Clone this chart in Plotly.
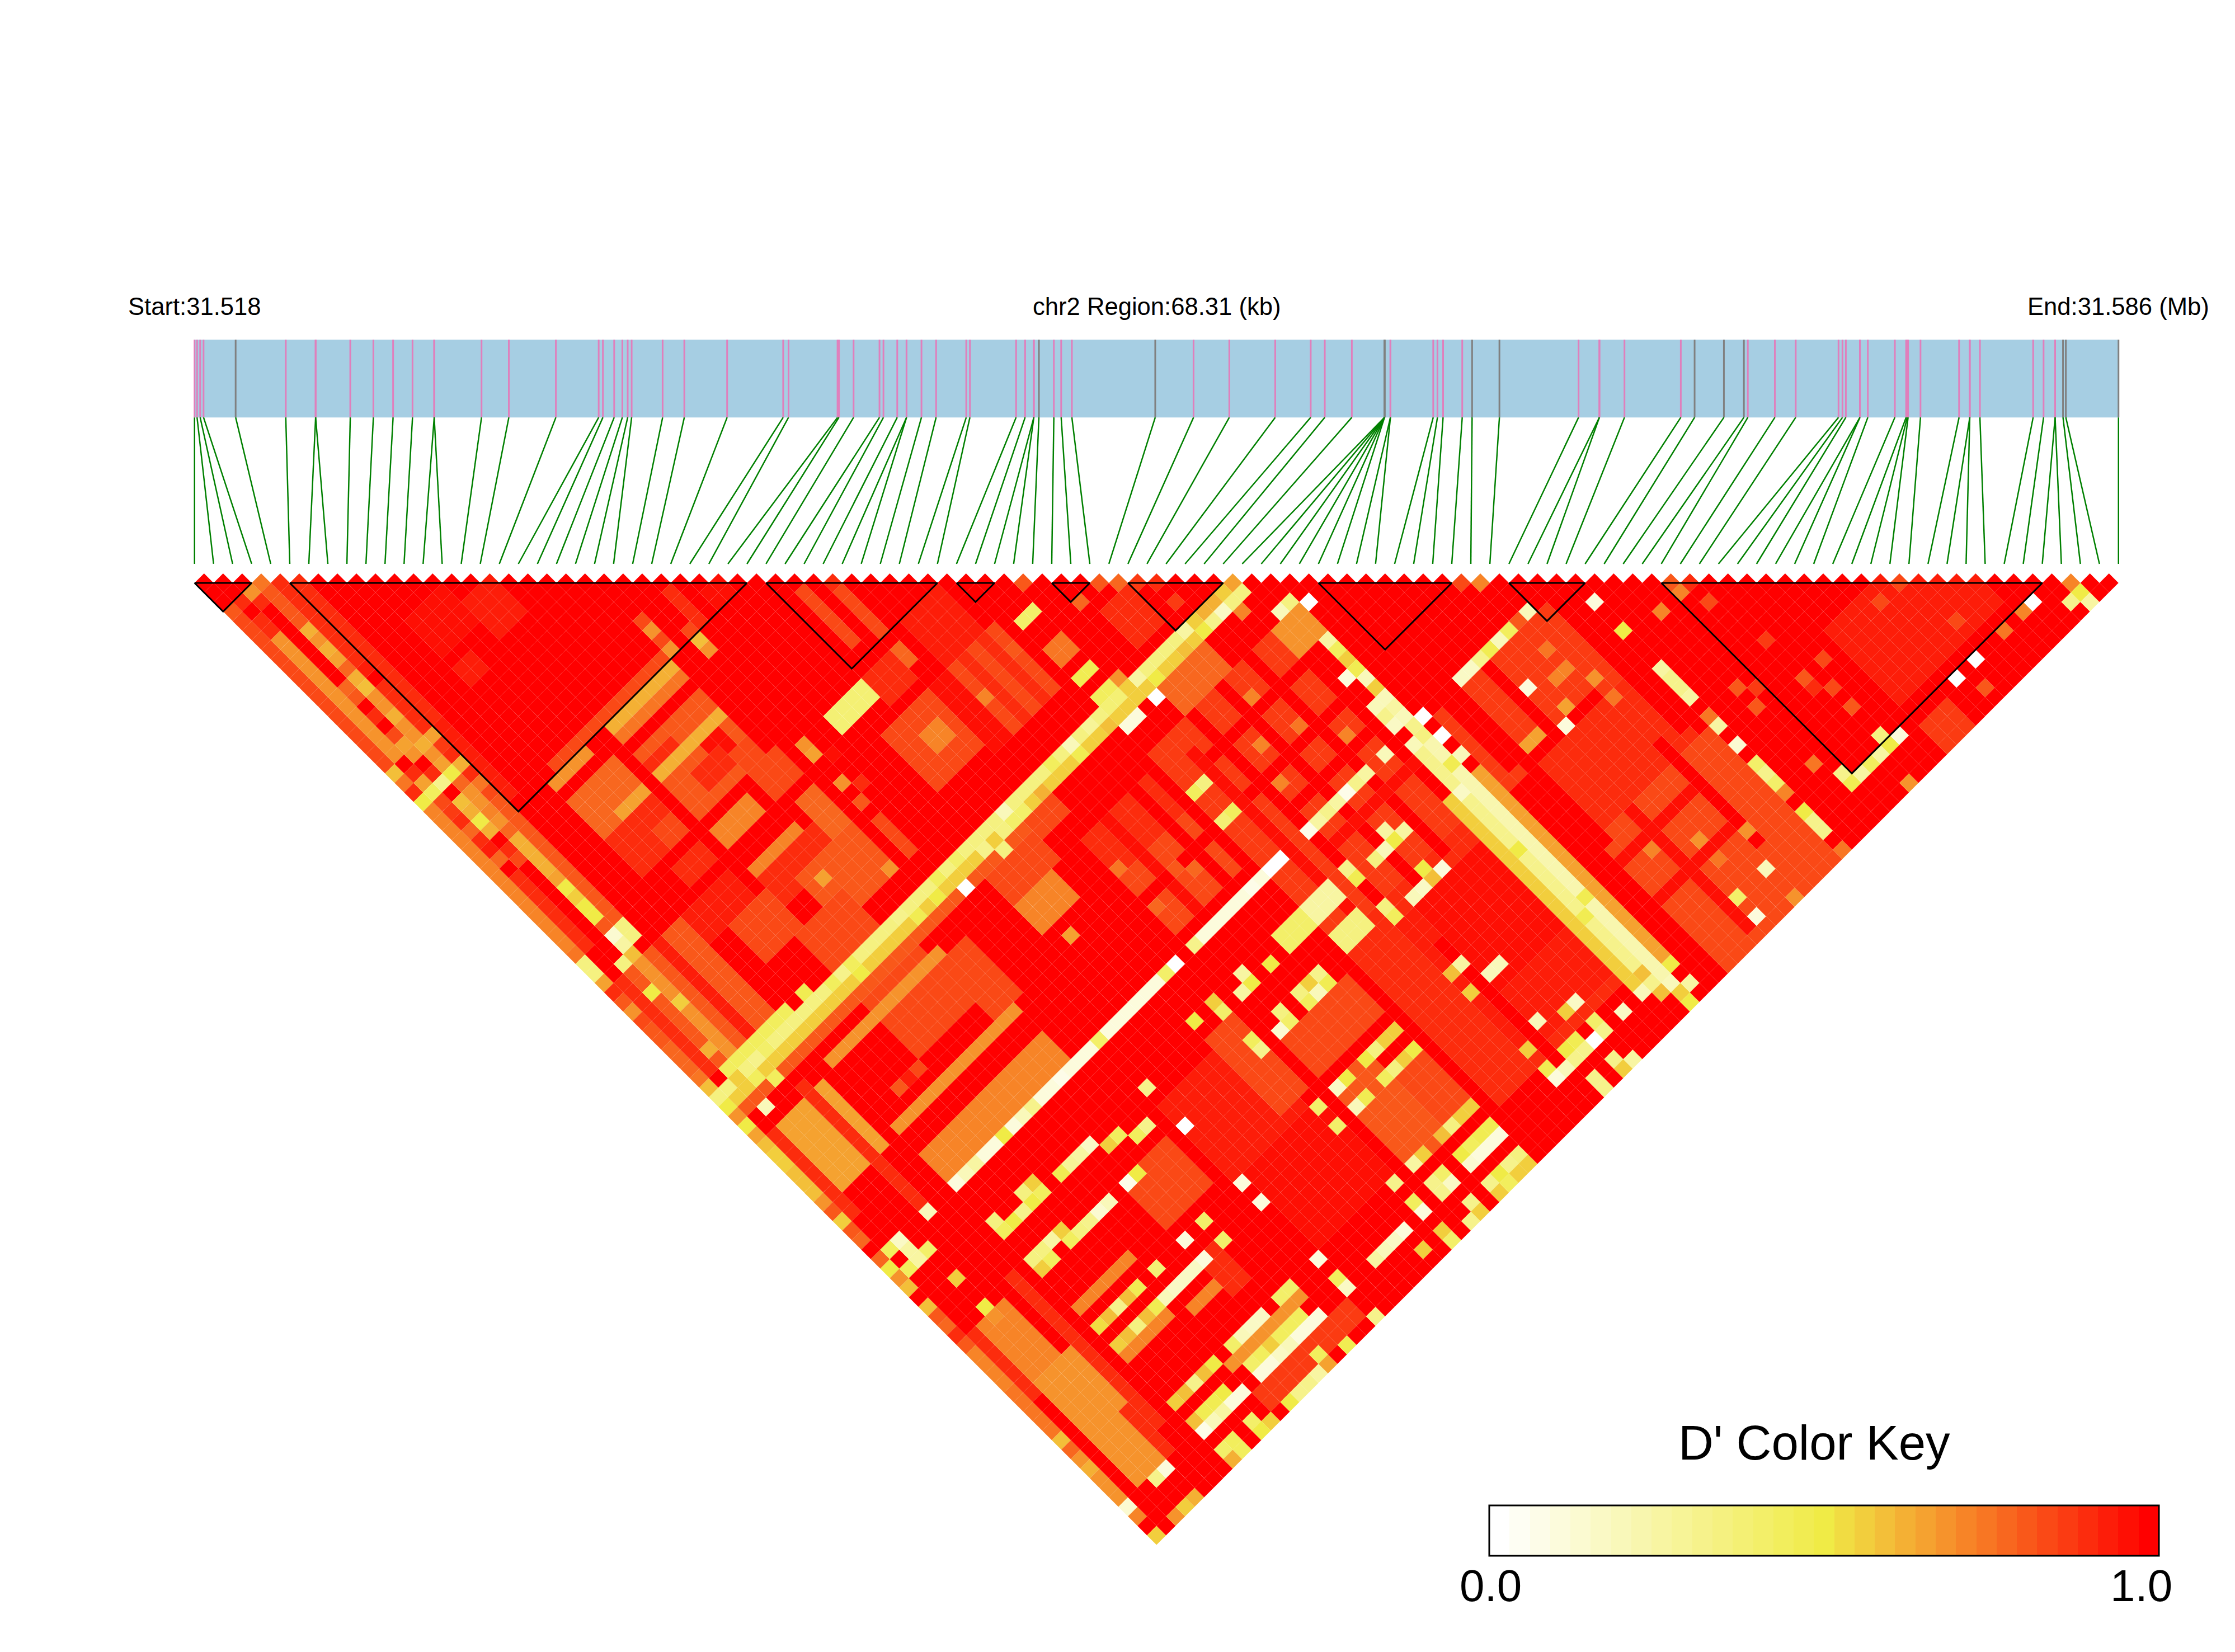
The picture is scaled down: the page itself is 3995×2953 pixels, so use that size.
import numpy as np
import plotly.graph_objects as go

N_SNP = 102
REGION_KB = 68.31
# genomic position of each SNP on the band (kb from start)
SNP_KB = [0.00,0.09,0.20,0.32,1.46,3.24,4.30,4.30,5.53,6.35,7.05,7.74,8.51,8.51,10.19,11.16,12.83,14.35,14.50,14.90,
          15.19,15.38,15.52,16.62,17.39,18.91,20.90,21.09,22.83,22.88,23.40,24.32,24.46,24.95,25.28,25.28,25.81,26.33,27.40,27.53,
          29.17,29.49,29.80,29.80,29.98,30.51,30.77,31.15,34.11,35.47,36.74,38.37,39.63,40.13,41.09,42.25,42.25,42.25,42.25,42.25,
          42.25,42.46,42.46,43.98,44.13,44.33,45.01,45.36,46.33,49.14,49.88,49.88,50.77,52.77,53.26,54.30,55.01,55.15,56.11,56.85,
          58.37,58.51,58.63,59.13,59.13,59.41,60.37,60.77,60.81,60.84,61.28,62.65,63.03,63.03,63.39,65.28,65.65,66.06,66.06,66.34,
          66.44,68.31]
GRAY_SNPS = [4,44,48,55,56,57,58,59,60,67,68,74,75,76,99,100,101]
BLOCK_START = [0,5,30,40,45,49,59,69,77]
BLOCK_END   = [3,29,39,42,47,54,66,73,97]

# D': (first i, last i, first j, last j, value); later entries overwrite earlier ones
REGIONS = [
 (13,15,16,19,.95),(9,12,14,17,.96),(9,10,19,20,.93),(24,24,26,29,.92),(26,27,28,29,.96),
 (14,21,29,29,.83),(9,13,29,29,.85),(14,20,30,30,.63),(8,12,30,30,.7),(14,20,31,31,.75),
 (14,20,33,39,.8),(18,19,36,37,.97),(19,20,38,39,.85),(16,18,37,38,.9),(14,16,34,34,.9),(14,20,35,35,.62),
 (8,12,32,35,.78),(10,12,35,35,.65),(8,12,36,39,.9),(11,12,38,39,.85),
 (14,17,41,42,.72),(19,21,40,42,.85),(10,12,41,42,.92),(8,12,44,46,.95),(14,19,46,48,.9),(14,18,45,45,.72),(10,13,47,50,.85),
 (31,31,33,38,.85),(33,33,34,39,.85),(32,33,41,42,.78),(35,38,40,44,.93),(30,32,41,43,.9),(33,39,45,51,.85),(33,34,45,51,.97),
 (36,36,45,51,.92),(38,38,45,51,.92),
 (35,35,48,48,.72),(28,32,45,50,.85),(30,31,47,48,.72),(39,39,47,47,.8),
 (20,21,44,48,.78),(16,21,48,52,.82),(23,23,49,52,.85),(13,17,51,54,.85),(1,7,44,53,.82),(3,3,44,53,.7),(5,5,44,53,.95),(1,1,44,53,.92),
 (31,33,57,58,.85),(26,30,57,60,.85),(26,29,61,63,.72),(33,39,61,70,.9),(33,39,65,70,.85),(38,38,61,70,1),(35,35,61,70,.97),(33,40,67,67,1),
 (41,42,49,50,.75),(46,48,50,53,.9),(45,49,56,59,.78),
 (41,53,60,80,.87),(54,56,60,62,.68),(58,69,73,80,.88),(63,63,73,79,1),(59,59,73,79,1),(61,70,81,87,.92),(60,71,88,101,.85),
 (63,63,88,100,.97),(60,68,90,90,.97),(60,68,94,94,.97),
 (41,54,80,96,.9),(45,53,82,95,.93),(47,53,82,90,.97),(46,46,85,97,1),(40,55,100,100,1),
 (33,39,82,85,.85),(23,30,79,86,.95),(29,31,78,85,.85),(24,31,87,94,.96),(17,21,81,85,.85),(37,40,90,94,.85),(33,36,87,95,.8),
 (83,93,89,96,.95),(83,85,99,101,.87),(88,88,100,100,.8),
 (8,20,69,71,.72),(13,18,58,63,.85),(19,21,60,65,.85),(14,19,59,59,.7),(8,14,59,59,.7),(8,13,66,66,.68),(13,20,66,66,.68),
 (2,6,60,66,.65),(1,1,60,68,.92),(5,5,59,72,.92),(0,30,57,57,.8),
 (2,4,81,86,.72),(1,1,81,87,.92),(2,5,87,92,.7),(6,6,80,95,.92),(5,5,93,97,.92),(2,4,92,97,.68),
 (8,13,85,85,.72),(8,12,90,90,.72),(14,17,91,91,.72),(13,20,96,96,.7),(13,22,99,100,.87),(17,18,89,92,.9),
 (1,1,33,40,.92),(5,5,7,20,.92),(5,5,21,28,.95),
 # red stripes crossing the orange fields
 (51,51,60,80,1),(48,48,60,80,1),(45,45,60,80,1),(43,43,62,78,.98),(44,54,63,63,1),(44,54,67,67,1),(45,55,70,70,1),(46,56,74,74,.97),
 (60,60,73,88,1),(60,67,80,80,1),(70,70,80,86,1),(68,68,86,96,1),
 (32,32,74,91,1),(40,40,74,96,1),(33,40,86,86,1),(33,40,96,96,1),
 # long pale stripes
 (0,53,55,55,.33),(0,52,56,56,.55),(2,8,54,54,.45),(8,31,72,72,.1),(33,40,72,72,.08),
 (55,55,74,98,.3),(56,56,73,98,.22),(54,54,78,97,.55),(57,57,78,97,.66),
 (26,29,41,42,.38),(41,42,52,52,.48),(41,42,46,46,.4),(45,49,72,72,.25),
 (41,43,76,77,.25),(38,40,76,77,.4),(41,43,79,80,.35),
]

# single SNP rows: i -> (first j, values)
SNP_ROWS = {
 0:(1,[1,1,1,.8,.85,.85,.85,.85,.85,.85,.85,.85,.85,.85,.85,.85,.85,.85,.85,.85,.6,.75,.92,.5,.72,.72,.72,.72,.72,.72,.72,.72,.72,.72,.72,.72,.72,.72,.72,.75,
       .33,.33,.65,.92,.8,.7,.85,.8,.8,.78,.78,.78,.76,.6,.33,.5,.68,.5,.65,.6,.55,.55,.6,.6,.58,.7,.8,.55,.8,.78,1,.78,.5,.7,.6,1,.6,.82,.78,.92,.8,
       .72,.72,.72,.72,.75,.75,.75,.75,.75,.6,.78,.7,.63,.68,.68,.68,.12,.72,1,.55]),
 1:(2,[1,1,.92,1,.9,.92,.7,.7,.7,.7,.7,.7,.7,.7,.7,.7,.7,.7,.7,1,.92,.65,.45,.85,.88,.92,.78,.92,.95,.78,1]),
 2:(3,[1,.7,.9,1,1,1,1,1,1,1,1,.78,.8,1,.9,1,.85,.65,.68,1,.9,.3,1,.58,.62,.5,.62,1,.92,.85]),
 3:(4,[.75,.8,.8,.8,.8,.62,.7,.63,.65,.78,.63,.6,.68,.7,.62,.68,.68,.62,.7,.65,.5,.78,.68,.68,.72,.68,.78,.62,.62,.62,.62,.65,.5,.55,.5,.5,.8,.12,.25,.6]),
 4:(5,[.92,.92,.92,.92,.92,.92,.92,.92,.92,.95,1,.9,.9,.9,.9,.9,.65,.88,.9,.63,.92,.75,.85,.8,.8,.8,.8,.8,.8,.8,.8,.8,.8,.8,.8,.8,.33,.35]),
}

# individual cells that stand out: (i, j, value)
CELLS = [
 (3,4,.75),(4,5,.92),(5,6,.9),(33,34,.9),(43,44,.82),(47,48,.8),(48,49,.78),(49,50,.88),(50,51,.9),(54,55,.65),(66,67,.85),(67,68,.72),(77,78,.82),(78,79,.92),(89,90,.85),(98,99,.72),
 (21,26,.85),(21,27,.7),(21,28,.85),(21,29,.7),(23,29,.85),(23,30,.6),(23,31,.7),(12,30,1),(2,43,.33),(2,46,.5),(3,48,.55),(2,52,.62),(2,55,.55),(4,57,.45),(2,58,.2),
 (53,55,.55),(54,56,.33),(53,56,.33),(52,55,.62),(52,56,.15),(53,57,.72),(51,55,.62),(51,56,.3),(50,55,.55),(50,56,.5),(49,55,.25),(47,55,.33),(48,56,.6),
 (19,55,.3),(20,56,.48),(22,56,.5),(23,55,.45),(24,57,0),(25,55,.4),(27,56,.3),(28,57,.35),(29,56,.35),(30,56,.42),(30,55,.2),(31,56,.42),(33,56,.62),(35,55,.45),(37,55,.2),(37,56,.48),(39,55,.28),(40,56,.6),(41,57,.1),(42,57,.1),(44,57,0),
 (14,55,.45),(12,55,.45),(13,55,.3),(14,56,.5),(10,54,.48),(7,55,.33),(8,56,.55),(6,55,.35),(5,55,.42),(4,55,.3),(3,56,.45),
 (23,41,.7),(23,42,.65),(24,43,.97),(23,45,.7),(24,46,.9),(23,47,.82),(17,49,.65),(21,52,.7),(27,65,.65),(33,64,.75),(36,67,.8),(37,68,.78),(33,68,.78),(50,53,.88),(45,48,.78),
 (49,62,.72),(47,65,.72),(52,69,.72),(50,66,.75),(46,68,.72),(62,91,.72),(65,95,.75),(65,93,.7),
 (56,59,.35),(55,59,.2),(57,60,0),(56,63,.25),(56,64,.45),(56,65,.55),(56,66,.48),(56,67,.2),(55,66,.1),(56,68,.55),(56,69,.2),(56,70,.25),(56,71,.2),(56,72,.3),(56,73,.35),(55,69,.2),(55,70,.3),(55,71,.15),(55,73,.2),(57,72,0),(57,74,0),
 (44,55,.25),(45,56,.5),(42,54,.45),(41,54,.45),(42,55,.38),(41,55,.38),(43,54,.68),(43,55,.55),
 (61,72,.15),(62,72,.15),(63,72,.3),(64,72,.48),(65,72,.2),(66,72,.45),(67,72,.8),(68,72,.2),
 (41,64,.45),(42,64,.35),(42,67,.45),(41,67,.38),(45,72,.05),(41,72,0),(42,72,0),(39,72,.05),(31,72,0),(30,72,.4),(33,72,.3),
 (45,77,.48),(45,76,.3),(49,76,.25),(50,77,.25),(49,77,.5),(48,77,.2),(47,77,.35),(49,80,.5),(50,81,.1),(49,81,.6),(48,81,.15),(47,81,.2),(45,80,.35),(45,81,.45),
 (53,72,.2),(51,72,.25),(50,72,.3),(49,72,.05),(48,72,.25),(47,72,.3),(56,76,.48),(57,76,.2),(55,78,.15),
 (55,84,.5),(56,90,.48),(55,91,.48),
 (72,75,.1),(72,78,.5),(75,79,.72),(64,76,.08),(72,82,.25),(72,83,.3),(72,84,.3),(72,85,.25),(72,87,.75),(72,88,.25),(72,90,.12),(72,92,.4),(72,93,.3),(72,94,.42),(72,95,.72),
 (64,80,.08),(65,79,.65),(95,98,0),(94,98,.72),(89,98,0),(87,98,0),(81,98,.1),(80,98,.5),(80,97,.35),(79,98,.25),(78,98,.45),(77,98,.25),(76,98,.48),(76,97,.3),
 (97,100,.3),(98,100,.5),(98,101,.25),(72,97,.5),(72,98,.3),(72,99,.3),(68,95,.7),(67,98,.2),(64,98,.4),(64,100,.1),(72,101,.75),(79,101,.7),(67,101,.7),
 (61,79,.65),(62,79,.65),(67,75,.75),(67,77,.72),(66,77,.72),(68,79,.68),(68,81,.75),
 (77,79,.72),(78,81,.85),(79,86,.88),(81,90,.85),(75,87,.8),(76,88,.88),(75,89,.8),(79,90,.8),(79,91,.92),(80,92,.85),(80,94,.8),(87,90,.85),(90,95,.85),(92,98,.75),(75,95,.75),
 (36,77,.5),(38,80,.3),(38,81,.48),(37,80,.55),(36,80,.35),(37,81,.2),(36,81,.45),(34,76,.25),(34,77,.5),(33,77,.25),(34,80,.33),(34,81,.4),(33,81,.12),(31,76,.55),(31,77,.4),(30,76,1),(29,76,.5),(31,80,.45),(31,81,.3),
 (31,87,.4),(33,87,.15),(34,87,.5),(31,89,.4),(33,89,.2),(34,89,.48),(39,87,.55),(38,87,.55),(37,87,.35),(36,87,.5),(39,89,.5),(38,89,.55),(37,89,.35),(36,89,.45),
 (39,95,.55),(38,95,.55),(37,95,.35),(36,95,.6),(39,97,.48),(38,97,.48),(37,97,.45),(36,97,.5),(39,98,.1),(38,98,.1),(37,98,.1),(36,98,.12),(33,95,.25),(34,95,.55),(31,95,.3),(31,97,.45),(31,98,.1),(34,97,.4),(34,98,.15),(33,97,.3),(33,98,.3),
 (39,100,.35),(38,100,.3),(39,101,.55),(38,101,.55),(36,100,.3),(37,100,.5),(37,101,.45),(36,101,.55),(34,100,.3),(34,101,.55),(33,101,.3),(29,98,.1),(28,98,.15),(27,98,.2),(26,98,.2),(29,100,.55),(31,101,.4),(31,100,.55),
 (23,89,.08),(23,87,.08),(23,81,0),(19,87,.4),(19,89,.4),(17,87,.1),(17,89,.1),
 (46,87,.25),(45,87,.58),(45,89,.55),(48,89,.2),(47,89,.2),(47,94,.2),(49,95,.55),(50,95,.15),(45,95,.55),(45,97,.48),(45,98,.1),(50,97,.4),(48,97,.48),(47,97,.5),(49,98,0),(50,98,.3),(48,98,.3),(47,98,.3),(46,98,.2),
 (49,100,.3),(49,101,.55),(50,101,.25),(47,100,.3),(47,101,.3),(52,98,.15),(54,98,.2),(55,99,.6),(56,101,.5),(56,100,.55),(56,99,.2),(57,100,.25),(55,97,.6),(57,98,.5),
 (21,72,.1),(19,72,.05),(17,72,.1),(16,72,.3),(15,72,.2),(14,72,.1),(13,72,.5),(12,72,.1),(11,72,.1),(10,72,.25),(9,72,.2),(8,72,.08),(23,72,.4),
 (12,64,.85),(11,64,.95),(10,64,.8),(5,72,.2),(2,72,.15),(1,72,.45),(2,73,.25),(3,74,.4),
 (8,76,.35),(9,77,.5),(8,77,.45),(10,77,.3),(11,77,.5),(12,77,.45),(11,76,.35),(12,76,.55),(11,80,.55),(12,81,.33),(11,81,.45),(10,80,.25),(9,80,.33),(9,81,.45),
 (17,81,.05),(15,81,.2),(14,81,.12),(13,81,.3),(18,81,.5),(17,77,.15),(16,77,.25),(15,77,.28),(14,77,.48),(18,78,.55),(19,78,.45),(20,79,.45),(21,79,.3),(23,77,.3),
 (8,80,.33),(8,81,.55),(12,87,.48),(11,87,.58),(10,87,.3),(9,87,.6),(8,87,.52),(12,89,.48),(11,89,.58),(10,89,.35),(9,89,.6),(8,89,.55),(14,87,.38),(16,89,.15),(15,89,.15),(14,89,.15),(13,89,.2),
 (17,95,.15),(16,95,.15),(15,95,.2),(14,95,.42),(20,95,.42),(19,95,.42),(20,98,.1),(19,98,.1),(18,98,.08),(17,98,.2),(16,98,.15),(15,98,.1),(14,98,.08),
 (19,97,.45),(18,97,.45),(17,97,.45),(16,97,.55),(15,97,.45),(14,97,.4),(23,95,.1),(23,97,.45),(23,98,.15),(26,98,.25),(23,101,.3),(18,100,.45),(20,101,.48),(18,101,.65),(17,101,.25),(16,101,.3),(15,101,.3),(14,101,.5),
 (12,98,.1),(11,98,.1),(11,97,.5),(10,97,.48),(9,97,.48),(9,98,.2),(8,98,.05),(8,97,.6),(10,98,.25),(8,95,.55),(9,95,.6),(10,95,.3),(12,95,.5),(11,95,.6),
 (9,100,.45),(8,100,.4),(9,101,.45),(8,101,.62),(12,101,.55),(11,100,.4),(11,101,.5),(4,98,.1),(3,98,.3),(3,101,.55),(2,101,.68),(4,101,.62),(3,77,.55),(1,74,.45),(2,74,.25),(3,80,.5),(3,81,.7),
]

dprime = np.ones((N_SNP, N_SNP))
for i0, i1, j0, j1, val in REGIONS:
    dprime[i0:i1 + 1, j0:j1 + 1] = val
for i, (j0, vals) in SNP_ROWS.items():
    dprime[i, j0:j0 + len(vals)] = vals
for i, j, val in CELLS:
    dprime[i, j] = val

# --- key colours
def key_colour(t):
    stops = [(255, 255, 255), (240, 235, 70), (255, 0, 0)]
    a, b, f = (stops[0], stops[1], t * 2) if t <= .5 else (stops[1], stops[2], (t - .5) * 2)
    return "rgb(%d,%d,%d)" % tuple(round(a[k] + (b[k] - a[k]) * f) for k in range(3))

N_KEY = 33
colorscale = []
for k in range(N_KEY):
    c = key_colour(k / (N_KEY - 1))
    colorscale += [[k / N_KEY, c], [(k + 1) / N_KEY, c]]

W, H = 3995, 2953
STEP = 34.05
X0, Y0 = 347.7, 1025.0
xr = [-X0 / STEP, (W - X0) / STEP]
yr = [(H - Y0) / STEP, -Y0 / STEP]
BAND_TOP, BAND_BOTTOM, LINK_END = -12.27, -8.19, -0.5

pair_i, pair_j = np.triu_indices(N_SNP, 1)
snp_band = np.array(SNP_KB) / REGION_KB * (N_SNP - 1)
# each D' falls in the centre of its key cell
key_cell = (np.round(dprime[pair_i, pair_j] * (N_KEY - 1)) + .5) / N_KEY

fig = go.Figure()
fig.add_shape(type="rect", x0=0, x1=N_SNP - 1, y0=BAND_TOP, y1=BAND_BOTTOM,
              fillcolor="#A6CEE3", line_width=0, layer="below")

def tick_trace(idx, colour):
    xs, ys = [], []
    for s in idx:
        xs += [snp_band[s], snp_band[s], None]
        ys += [BAND_TOP, BAND_BOTTOM, None]
    return go.Scatter(x=xs, y=ys, mode="lines", line=dict(color=colour, width=3), hoverinfo="skip", showlegend=False)

fig.add_trace(tick_trace([s for s in range(N_SNP) if s not in GRAY_SNPS], "#E07FBC"))
fig.add_trace(tick_trace(GRAY_SNPS, "#808080"))

lx, ly = [], []
for s in range(N_SNP):
    lx += [snp_band[s], s, None]
    ly += [BAND_BOTTOM, LINK_END, None]
fig.add_trace(go.Scatter(x=lx, y=ly, mode="lines", line=dict(color="#008000", width=2.5), hoverinfo="skip", showlegend=False))

fig.add_trace(go.Scatter(
    x=(pair_i + pair_j) / 2, y=(pair_j - pair_i) / 2, mode="markers", showlegend=False,
    marker=dict(symbol="diamond", size=STEP / 1.3, color=key_cell, cmin=0, cmax=1,
                colorscale=colorscale, line=dict(width=0),
                colorbar=dict(orientation="h", lenmode="pixels", len=1197, thicknessmode="pixels", thickness=90,
                              x=2661.6 / W, xanchor="left", y=1 - 2690.7 / H, yanchor="top", xpad=0, ypad=0,
                              outlinecolor="black", outlinewidth=3, ticks="", showticklabels=False))))

bx, by = [], []
for a, b in zip(BLOCK_START, BLOCK_END):
    bx += [a, b, (a + b) / 2, a, None]
    by += [.5, .5, .5 + (b - a) / 2, .5, None]
fig.add_trace(go.Scatter(x=bx, y=by, mode="lines", line=dict(color="black", width=3), hoverinfo="skip", showlegend=False))

font = dict(family="Liberation Sans", size=43.6, color="black")
for sx, text in [(0, "Start:31.518"), ((N_SNP - 1) / 2, "chr2 Region:68.31 (kb)"), (N_SNP - 1, "End:31.586 (Mb)")]:
    fig.add_annotation(x=sx, xref="x", y=1 - 548 / H, yref="paper", text=text, showarrow=False, font=font, xanchor="center", yanchor="middle")
fig.add_annotation(x=3243 / W, xref="paper", y=1 - 2578 / H, yref="paper", text="D' Color Key", showarrow=False,
                   font=dict(family="Liberation Sans", size=87, color="black"), xanchor="center", yanchor="middle")
for px, text in [(2664, "0.0"), (3827, "1.0")]:
    fig.add_annotation(x=px / W, xref="paper", y=1 - 2834 / H, yref="paper", text=text, showarrow=False,
                       font=dict(family="Liberation Sans", size=80, color="black"), xanchor="center", yanchor="middle")

fig.update_layout(width=W, height=H, margin=dict(l=0, r=0, t=0, b=0), paper_bgcolor="white", plot_bgcolor="white",
                  xaxis=dict(range=xr, visible=False, fixedrange=True), yaxis=dict(range=yr, visible=False, fixedrange=True))
fig.write_html("out.html", config=dict(displayModeBar=False),
               post_script="document.body.style.margin='0';document.body.style.overflow='hidden';")
